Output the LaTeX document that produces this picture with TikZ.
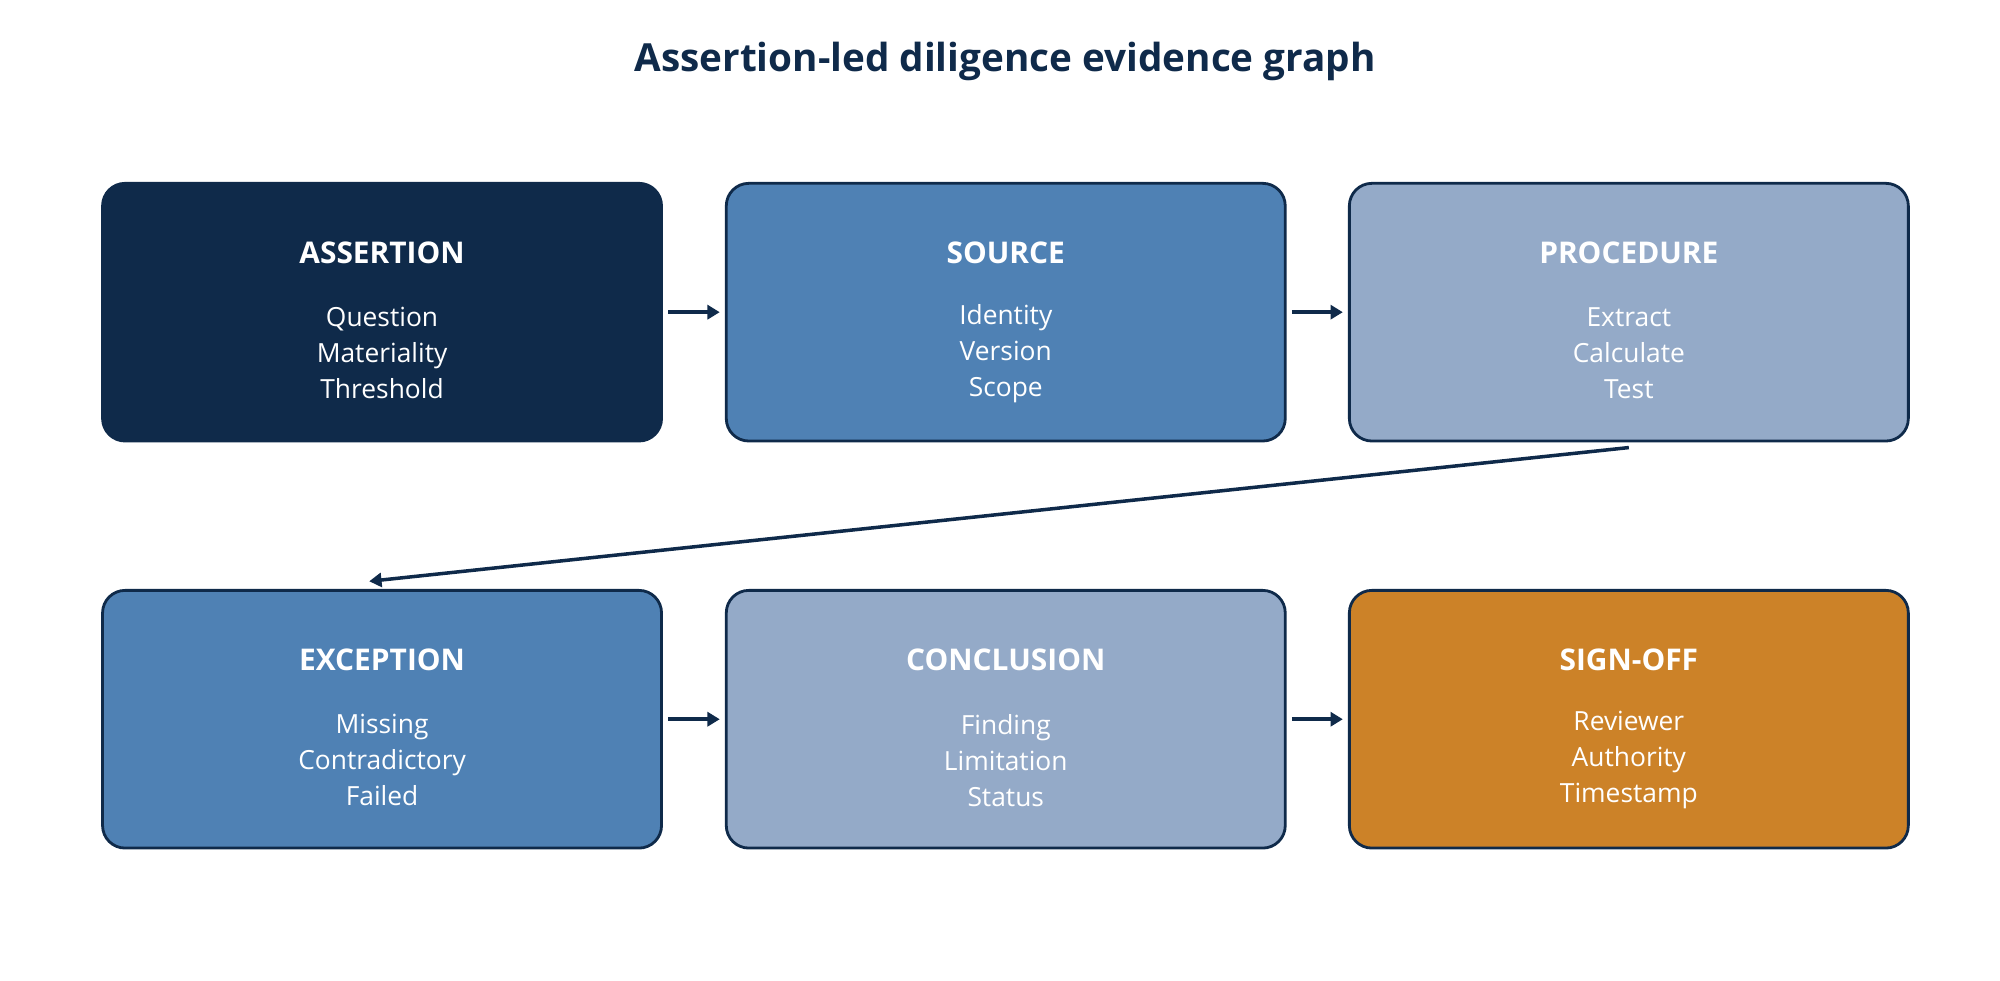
\documentclass[tikz,border=0pt]{standalone}
\usepackage{fontspec}
\setmainfont{Open Sans}
\usetikzlibrary{arrows.meta}
\definecolor{navy}{HTML}{0F2A4A}
\definecolor{midb}{HTML}{4F81B4}
\definecolor{lightb}{HTML}{94AAC8}
\definecolor{orng}{HTML}{CC8228}
\begin{document}
\begin{tikzpicture}[x=0.02564cm,y=-0.02564cm,
 box/.style={draw=navy,line width=1.6pt,rounded corners=0.45cm,minimum width=436*0.02564cm,minimum height=201*0.02564cm,inner sep=0pt},
 hd/.style={text=white,font=\fontsize{17}{20}\selectfont\bfseries},
 bd/.style={text=white,font=\fontsize{15}{20.5}\selectfont,align=center},
 arr/.style={draw=navy,line width=2pt,-{Triangle[length=7pt,width=8pt]}}]
\useasboundingbox (0,0) rectangle (1560,764.4);
\node[text=navy,font=\fontsize{22}{26}\selectfont\bfseries] (title) at (784,48) {Assertion-led diligence evidence graph};
\node[box,fill=navy] (a) at (298,243.5) {};
\node[box,fill=midb] (s) at (784.5,243.5) {};
\node[box,fill=lightb] (p) at (1270.5,243.5) {};
\node[box,fill=midb] (e) at (298,561) {};
\node[box,fill=lightb] (c) at (784.5,561) {};
\node[box,fill=orng] (o) at (1270.5,561) {};
\foreach \n/\h/\l in {a/ASSERTION/{Question\\Materiality\\Threshold},s/SOURCE/{Identity\\Version\\Scope},p/PROCEDURE/{Extract\\Calculate\\Test},e/EXCEPTION/{Missing\\Contradictory\\Failed},c/CONCLUSION/{Finding\\Limitation\\Status},o/SIGN-OFF/{Reviewer\\Authority\\Timestamp}}{
 \node[hd] (\n h) at ([yshift=46.5*0.02564cm]\n.center) {\h};
 \node[bd] (\n b) at ([yshift=-32*0.02564cm]\n.center) {\l};
}
\draw[arr] ([xshift=4*0.02564cm]a.east) -- ([xshift=-4*0.02564cm]s.west);
\draw[arr] ([xshift=4*0.02564cm]s.east) -- ([xshift=-4*0.02564cm]p.west);
\draw[arr] ([xshift=4*0.02564cm]e.east) -- ([xshift=-4*0.02564cm]c.west);
\draw[arr] ([xshift=4*0.02564cm]c.east) -- ([xshift=-4*0.02564cm]o.west);
\draw[arr] ([yshift=-4*0.02564cm]p.south) -- ([xshift=-10*0.02564cm,yshift=6*0.02564cm]e.north);
\end{tikzpicture}
\end{document}
